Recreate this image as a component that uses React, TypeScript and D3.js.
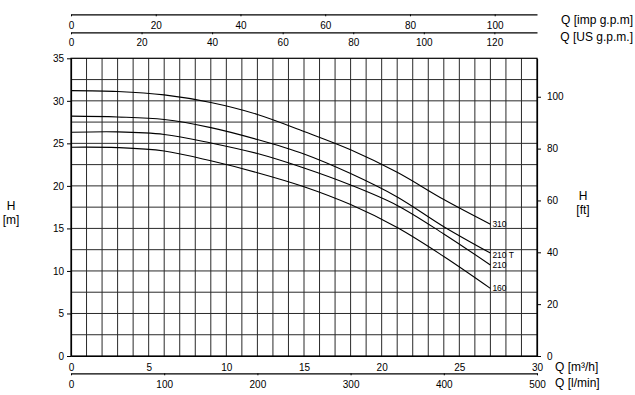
import * as d3 from 'd3';
import { useEffect, useRef } from 'react';

// flow points along the curves, m3/h
const flowQ = [0, 3, 6, 9, 12, 15, 18, 21, 24, 27];

// head in m for each pump
const head310 = [31.2, 31.1, 30.7, 29.8, 28.4, 26.4, 24.25, 21.6, 18.4, 15.5];
const head210T = [28.2, 28.1, 27.8, 26.85, 25.45, 23.75, 21.45, 18.7, 15.2, 12.1];
const head210 = [26.3, 26.35, 26.05, 25.05, 23.8, 22.1, 20.1, 17.7, 14.35, 10.7];
const head160 = [24.55, 24.5, 24.1, 22.95, 21.55, 19.9, 17.8, 15.1, 11.7, 7.95];

const seriesNames = ['310', '210 T', '210', '160'];
const seriesHeads = [head310, head210T, head210, head160];

// tick values
const qTicks = [0, 5, 10, 15, 20, 25, 30];
const lminTicks = [0, 100, 200, 300, 400, 500];
const usTicks = [0, 20, 40, 60, 80, 100, 120];
const impTicks = [0, 20, 40, 60, 80, 100];
const hTicks = [0, 5, 10, 15, 20, 25, 30, 35];
const ftTicks = [0, 20, 40, 60, 80, 100];

const W = 635;
const H = 395;
const FONT = '"Liberation Sans", Arial, sans-serif';

export default function App() {
  const svgRef = useRef<SVGSVGElement | null>(null);

  useEffect(() => {
    const svg = d3.select(svgRef.current);
    svg.selectAll('*').remove();

    const left = 71;
    const right = 537;
    const top = 58.3;
    const bottom = 356;

    const x = d3.scaleLinear().domain([0, 30]).range([left, right]);
    const y = d3.scaleLinear().domain([0, 35]).range([bottom, top]);
    const yFt = d3.scaleLinear().domain([0, 35 / 0.3048]).range([bottom, top]);
    const xLmin = d3.scaleLinear().domain([0, 500]).range([left, right]);
    const xUs = d3.scaleLinear().domain([0, 30 / 0.2271247]).range([left, right]);
    const xImp = d3.scaleLinear().domain([0, 30 / 0.2727654]).range([left, right]);

    // grid
    const grid = svg.append('g').attr('stroke', '#2a2a2a').attr('stroke-width', 1);
    grid.selectAll('.vx')
      .data(d3.range(1, 30))
      .enter()
      .append('line')
      .attr('x1', (d) => x(d))
      .attr('x2', (d) => x(d))
      .attr('y1', top)
      .attr('y2', bottom);
    grid.selectAll('.hy')
      .data(d3.range(1, 14).map((i) => i * 2.5))
      .enter()
      .append('line')
      .attr('x1', left)
      .attr('x2', right)
      .attr('y1', (d) => y(d))
      .attr('y2', (d) => y(d));

    svg.append('rect')
      .attr('x', left)
      .attr('y', top)
      .attr('width', right - left)
      .attr('height', bottom - top)
      .attr('fill', 'none')
      .attr('stroke', '#000')
      .attr('stroke-width', 1.2);

    const styleAxis = (g: any, size: number) => {
      g.select('.domain').attr('stroke', '#000').attr('stroke-width', 1.2);
      g.selectAll('.tick line').attr('stroke', '#000');
      g.selectAll('text').attr('fill', '#000').style('font-size', `${size}px`).style('font-family', FONT);
    };

    // left H [m]
    svg.append('g')
      .attr('transform', `translate(${left},0)`)
      .call(d3.axisLeft(y).tickValues(hTicks).tickSize(4).tickPadding(3).tickSizeOuter(0))
      .call((g) => styleAxis(g, 10));

    // right H [ft]
    svg.append('g')
      .attr('transform', `translate(${right},0)`)
      .call(d3.axisRight(yFt).tickValues(ftTicks).tickSize(4).tickPadding(6).tickSizeOuter(0))
      .call((g) => styleAxis(g, 10));

    // bottom m3/h
    svg.append('g')
      .attr('transform', `translate(0,${bottom})`)
      .call(d3.axisBottom(x).tickValues(qTicks).tickSize(0).tickPadding(8).tickSizeOuter(0))
      .call((g) => styleAxis(g, 10));

    // bottom l/min
    svg.append('g')
      .attr('transform', `translate(0,373.3)`)
      .call(d3.axisBottom(xLmin).tickValues(lminTicks).tickSize(2).tickPadding(6).tickSizeOuter(0))
      .call((g) => styleAxis(g, 10));

    // top imp gpm
    svg.append('g')
      .attr('transform', `translate(0,14.3)`)
      .call(d3.axisBottom(xImp).tickValues(impTicks).tickSize(2).tickPadding(6).tickSizeOuter(0))
      .call((g) => styleAxis(g, 10));

    // top US gpm
    svg.append('g')
      .attr('transform', `translate(0,32.3)`)
      .call(d3.axisBottom(xUs).tickValues(usTicks).tickSize(2).tickPadding(5).tickSizeOuter(0))
      .call((g) => styleAxis(g, 10));

    // curves
    const line = d3.line<number>()
      .x((_, i) => x(flowQ[i]))
      .y((d) => y(d))
      .curve(d3.curveCatmullRom.alpha(0.5));

    seriesHeads.forEach((heads, idx) => {
      svg.append('path')
        .datum(heads)
        .attr('fill', 'none')
        .attr('stroke', '#000')
        .attr('stroke-width', 1.1)
        .attr('d', line);

      const last = heads.length - 1;
      svg.append('text')
        .attr('x', x(flowQ[last]) + 2)
        .attr('y', y(heads[last]) + 3 + (idx === 1 ? 2 : 0))
        .style('font-size', '8.5px')
        .style('font-family', FONT)
        .text(seriesNames[idx]);
    });

    // unit labels
    const label = (tx: number, ty: number, txt: string, anchor: string, size = 12) =>
      svg.append('text')
        .attr('x', tx)
        .attr('y', ty)
        .attr('text-anchor', anchor)
        .style('font-size', `${size}px`)
        .style('font-family', FONT)
        .text(txt);

    label(633, 24, 'Q [imp g.p.m]', 'end');
    label(633, 41, 'Q [US g.p.m.]', 'end');
    label(555, 371, 'Q [m³/h]', 'start');
    label(555, 387, 'Q [l/min]', 'start');
    label(11, 210, 'H', 'middle');
    label(11, 224, '[m]', 'middle');
    label(583, 200, 'H', 'middle');
    label(583, 214, '[ft]', 'middle');
  }, []);

  return (
    <svg
      ref={svgRef}
      width={W}
      height={H}
      style={{ position: 'absolute', left: 0, top: 0, background: '#fff' }}
    />
  );
}
